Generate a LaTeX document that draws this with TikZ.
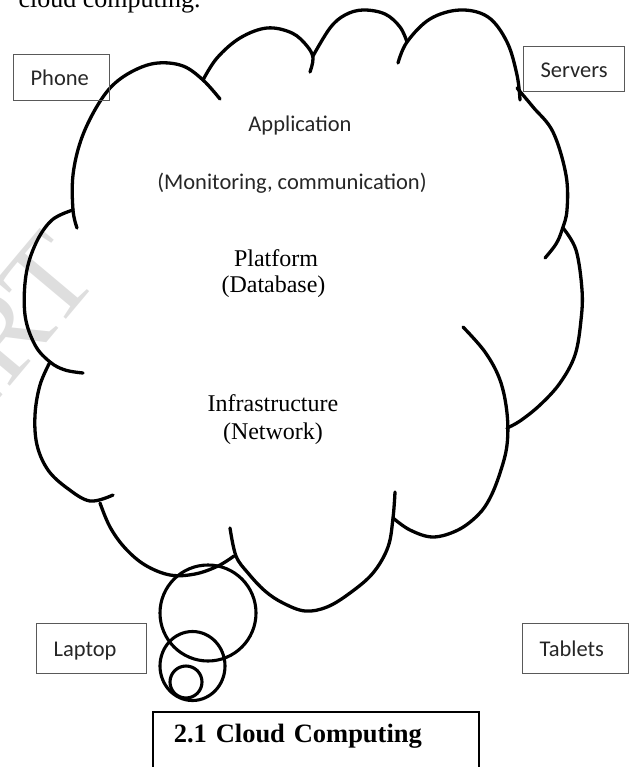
\documentclass[tikz,border=0pt]{standalone}
\usepackage{fontspec}
\setmainfont{Liberation Serif}
\newfontfamily\boxfont{Carlito}
\usepackage{tikz}

\begin{document}
\begin{tikzpicture}[
  x=1pt, y=-1pt,
  cloudline/.style={
    line width=3.3pt, line cap=round, line join=round
  },
  bubble/.style={line width=3.1pt},
  devbox/.style={
    draw=black!65, line width=1.2pt, anchor=north west,
    inner xsep=17pt, inner ysep=0pt, align=left,
    text height=18pt, text depth=2pt, text=black!85,
    font=\boxfont\fontsize{22.5}{27}\selectfont
  },
  layertext/.style={
    anchor=base, text=black!85,
    font=\boxfont\fontsize{22.5}{27}\selectfont
  },
  tiertext/.style={
    anchor=base, font=\fontsize{24}{28}\selectfont
  },
  capbox/.style={
    draw, line width=1.6pt, anchor=north west, align=left,
    inner xsep=21pt, inner ysep=13pt,
    text height=18pt, text depth=50pt,
    font=\bfseries\fontsize{26.5}{30}\selectfont
  }
]
\useasboundingbox (0,0) rectangle (629,767);

% Watermark and cut-off text line
\node[anchor=base east, rotate=50, text=black!13,
  font=\fontsize{120}{120}\selectfont] (wmark) at (104,275) {ERT};
\node[anchor=base west, font=\fontsize{26}{30}\selectfont] (lead) at (15,8) {cloud computing.};

% ===== Cloud outline, one bump at a time =====
\draw[cloudline] plot[smooth, tension=0.6] coordinates
  {(77,228) (73,210) (73,175) (81,140) (96,108) (113,85) (135,70) (158,63) (183,66) (203,80) (220,99)};
\draw[cloudline] plot[smooth, tension=0.6] coordinates
  {(203,80) (217,58) (240,38) (267,28) (292,33) (307,46) (313,58) (310,72)};
\draw[cloudline] plot[smooth, tension=0.6] coordinates
  {(313,56) (330,28) (345,15) (363,10) (385,14) (400,27) (407,42)};
\draw[cloudline] plot[smooth, tension=0.6] coordinates
  {(398,63) (407,42) (430,19) (460,10) (488,17) (507,42) (517,75) (520,100)};
\draw[cloudline] plot[smooth, tension=0.6] coordinates
  {(517,88) (533,107) (553,132) (566,175) (567,210) (562,230) (556,244) (545,258)};
\draw[cloudline] plot[smooth, tension=0.6] coordinates
  {(563,228) (576,250) (582,290) (581,320) (575,355) (560,383) (540,405) (520,421) (507,428)};
\draw[cloudline] plot[smooth, tension=0.6] coordinates
  {(463,327) (485,352) (500,380) (507,413) (507,445) (500,473) (490,498) (478,515) (458,530) (433,537) (410,530) (393,518)};
\draw[cloudline] plot[smooth, tension=0.6] coordinates
  {(395,492) (393,518) (388,547) (373,573) (350,593) (327,607) (305,611) (283,603) (265,591) (248,573) (236,556) (230,528)};
\draw[cloudline] plot[smooth, tension=0.6] coordinates
  {(100,503) (110,527) (125,548) (145,565) (170,575) (195,574) (218,566) (234,556)};
\draw[cloudline] plot[smooth, tension=0.6] coordinates
  {(50,362) (40,385) (35,415) (37,445) (48,470) (67,488) (90,501) (113,495)};
\draw[cloudline] plot[smooth, tension=0.6] coordinates
  {(73,210) (52,220) (36,243) (26,275) (25,315) (35,345) (50,362) (65,370) (83,373)};

% Thought bubbles
\draw[bubble] (208,613) circle[radius=48];
\draw[bubble] (192.5,666) ellipse[x radius=32.5, y radius=34.5];
\draw[bubble] (186,682) circle[radius=16];

% Layers inside the cloud
\node[layertext] (app) at (300,132) {Application};
\node[layertext] (appsub) at (292,190) {(Monitoring, communication)};
\node[tiertext] (plat) at (276,266) {Platform};
\node[tiertext] (platsub) at (273.5,292) {(Database)};
\node[tiertext] (infra) at (273,411) {Infrastructure};
\node[tiertext] (infrasub) at (273,439) {(Network)};

% Devices round the cloud
\node[devbox, minimum width=96, minimum height=46, text width=62] (phone) at (13,54) {Phone};
\node[devbox, minimum width=101, minimum height=45, text width=67] (servers) at (523,46) {Servers};
\node[devbox, minimum width=110, minimum height=50, text width=76] (laptop) at (36,623) {Laptop};
\node[devbox, minimum width=106, minimum height=50, text width=72] (tablets) at (522,623) {Tablets};

% Caption
\node[capbox, minimum width=326, text width=284] (caption) at (152,711) {2.1 Cloud Computing};

\end{tikzpicture}
\end{document}
